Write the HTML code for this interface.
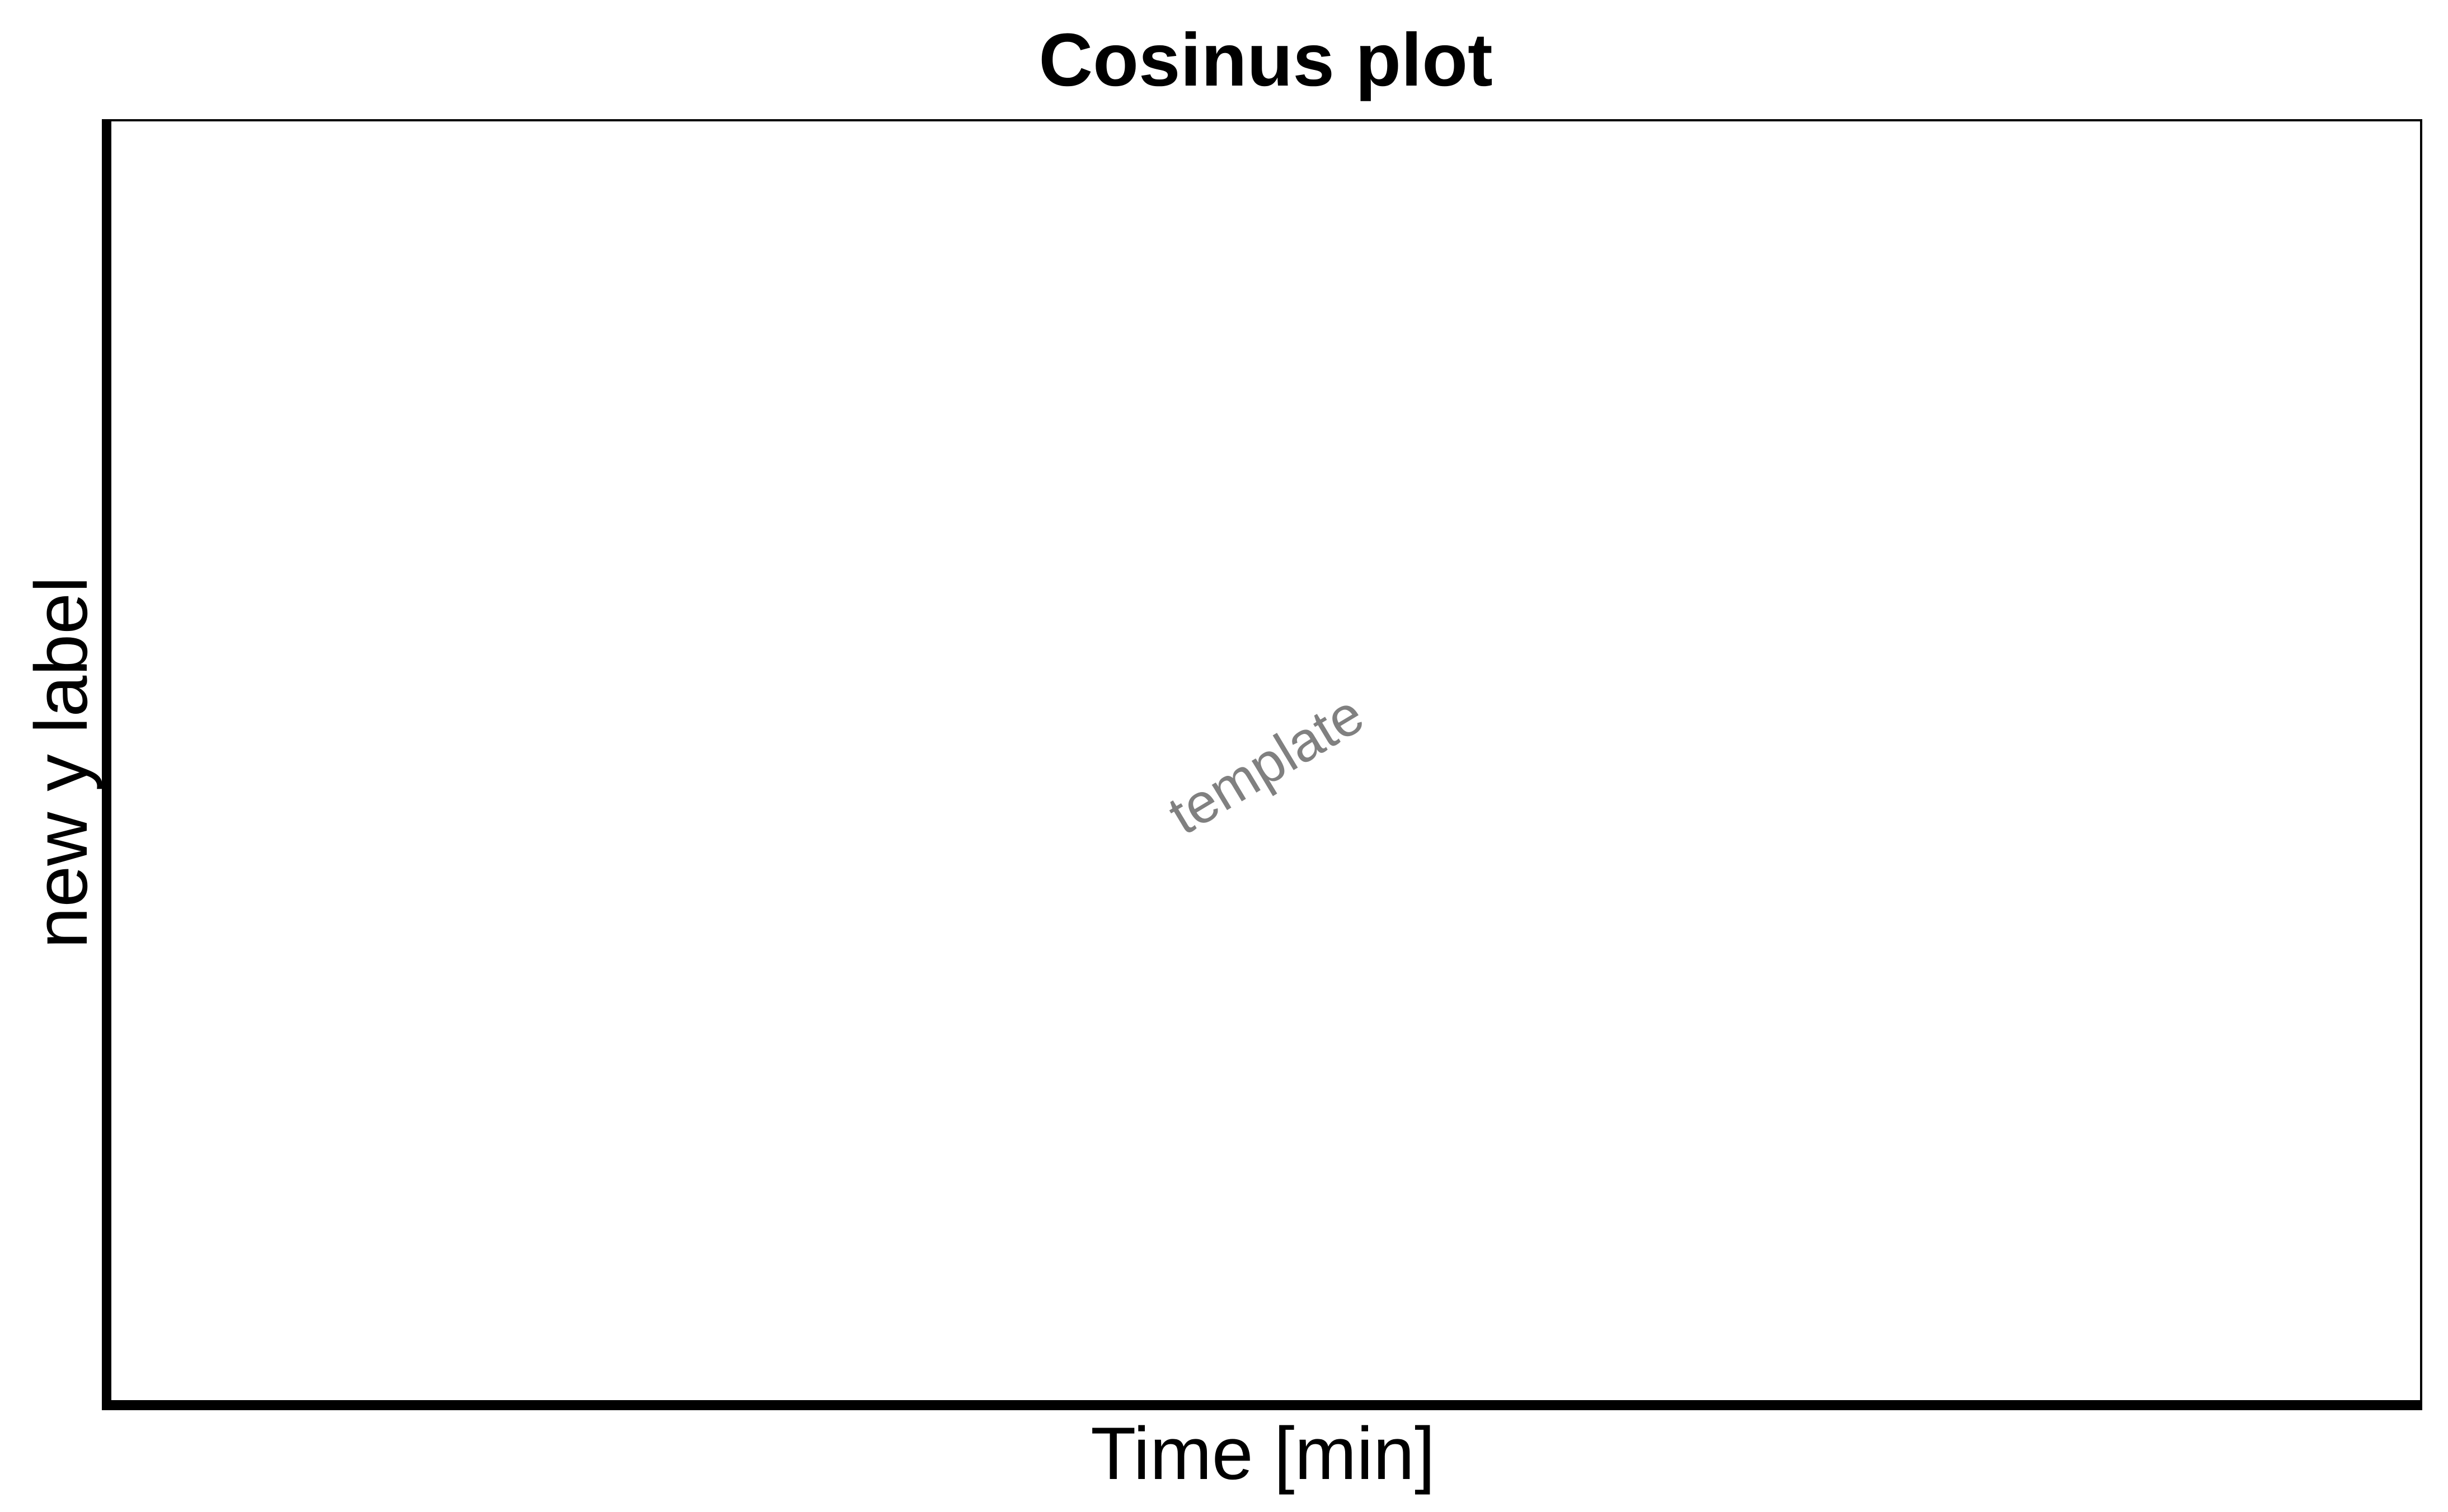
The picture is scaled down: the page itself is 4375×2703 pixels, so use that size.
<!DOCTYPE html>
<html>
<head>
<meta charset="utf-8">
<style>
  html, body { margin: 0; padding: 0; background: #ffffff; }
  body { width: 4375px; height: 2703px; overflow: hidden; }
  svg { display: block; }
  text { font-family: "Liberation Sans", Arial, sans-serif; }
</style>
</head>
<body>
<svg id="chart" width="4375" height="2703" viewBox="0 0 4375 2703" xmlns="http://www.w3.org/2000/svg">
  <rect x="0" y="0" width="4375" height="2703" fill="#ffffff"/>
  <g>
    <rect x="184" y="215" width="4143" height="2297" fill="none" stroke="#000" stroke-width="4"/>
    <rect x="182" y="213" width="17" height="2308" fill="#000"/>
    <rect x="182" y="2503" width="4147" height="18" fill="#000"/>
    <g id="series"></g>
  </g>
  <text x="2262" y="153" text-anchor="middle" font-size="134" font-weight="bold" fill="#000">Cosinus plot</text>
  <text x="2257" y="2644" text-anchor="middle" font-size="133" fill="#000">Time [min]</text>
  <text transform="translate(155,1363) rotate(-90)" text-anchor="middle" font-size="133" fill="#000">new y label</text>
  <text transform="translate(2280,1396) rotate(-31)" text-anchor="middle" font-size="100" fill="#808080">template</text>
</svg>
<script>
// The reference plot has no data marks, so these series are empty.
const categories = [];
const seriesValues = [];
const tickLabels = [];

const plotLeft = 199, plotRight = 4325, plotTop = 217, plotBottom = 2503;
function xScale(i) { return plotLeft + (i + 0.5) * (plotRight - plotLeft) / Math.max(categories.length, 1); }
function yScale(v) { return plotBottom - (v + 1) / 2 * (plotBottom - plotTop); }

const layer = document.getElementById('series');
if (seriesValues.length > 1) {
  const pts = seriesValues.map((v, i) => xScale(i) + ',' + yScale(v)).join(' ');
  const line = document.createElementNS('http://www.w3.org/2000/svg', 'polyline');
  
  
  line.setAttribute('points', pts);
  line.setAttribute('fill', 'none');
  line.setAttribute('stroke', '#000');
  line.setAttribute('stroke-width', '6');
  layer.appendChild(line);
}
</script>
</body>
</html>
